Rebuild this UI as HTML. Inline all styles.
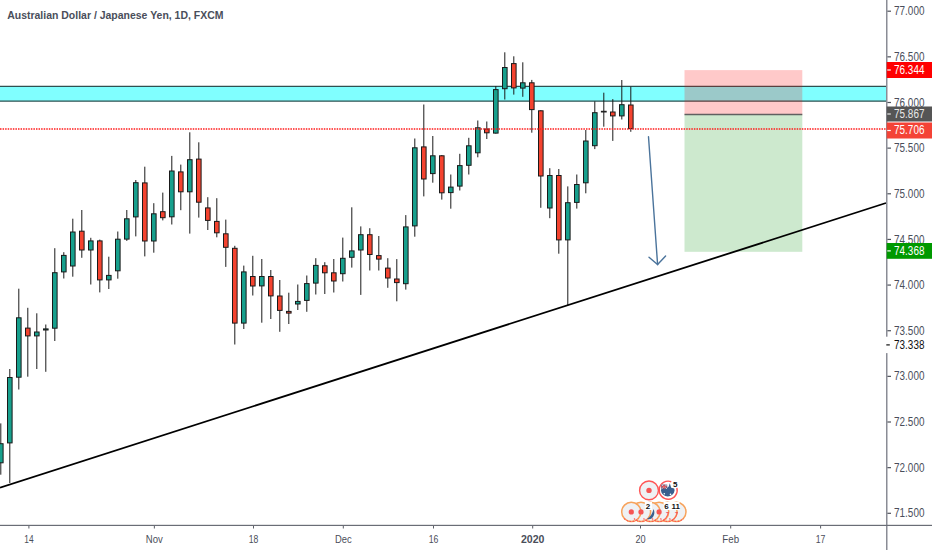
<!DOCTYPE html>
<html><head><meta charset="utf-8"><title>AUDJPY</title>
<style>
html,body{margin:0;padding:0;background:#fff;}
body{width:932px;height:550px;overflow:hidden;}
svg{display:block;}
text{font-family:"Liberation Sans",sans-serif;}
</style></head><body>
<svg width="932" height="550" viewBox="0 0 932 550">
<rect x="0" y="0" width="932" height="550" fill="#ffffff"/>

<rect x="0" y="86.4" width="886" height="14.8" fill="#80ffff"/>
<line x1="0" y1="86.4" x2="886" y2="86.4" stroke="#2f5050" stroke-width="1.2"/>
<line x1="0" y1="101.2" x2="886" y2="101.2" stroke="#2f5050" stroke-width="1.2"/>
<g stroke="#1a1a1a" stroke-width="1">
<line x1="0.8" y1="423.4" x2="0.8" y2="474.7"/>
<line x1="9.8" y1="369" x2="9.8" y2="483"/>
<line x1="18.8" y1="288.7" x2="18.8" y2="389.5"/>
<line x1="27.8" y1="307.8" x2="27.8" y2="376.7"/>
<line x1="36.8" y1="313.3" x2="36.8" y2="369"/>
<line x1="45.8" y1="324.5" x2="45.8" y2="371.8"/>
<line x1="54.8" y1="248.2" x2="54.8" y2="341"/>
<line x1="63.8" y1="252.2" x2="63.8" y2="278.5"/>
<line x1="72.8" y1="218.7" x2="72.8" y2="276.7"/>
<line x1="81.8" y1="210" x2="81.8" y2="257.8"/>
<line x1="90.8" y1="237.8" x2="90.8" y2="284.5"/>
<line x1="99.8" y1="239.6" x2="99.8" y2="292.4"/>
<line x1="108.8" y1="256.7" x2="108.8" y2="289"/>
<line x1="117.8" y1="231.5" x2="117.8" y2="278.7"/>
<line x1="126.8" y1="210" x2="126.8" y2="240.9"/>
<line x1="135.8" y1="180" x2="135.8" y2="236.4"/>
<line x1="144.8" y1="166.7" x2="144.8" y2="256.4"/>
<line x1="153.8" y1="203.2" x2="153.8" y2="252.7"/>
<line x1="162.8" y1="192.6" x2="162.8" y2="220.4"/>
<line x1="171.8" y1="155.9" x2="171.8" y2="224.5"/>
<line x1="180.8" y1="164.6" x2="180.8" y2="210.2"/>
<line x1="189.8" y1="132.3" x2="189.8" y2="233.6"/>
<line x1="198.8" y1="142.3" x2="198.8" y2="217.6"/>
<line x1="207.8" y1="197.2" x2="207.8" y2="230"/>
<line x1="216.8" y1="198.2" x2="216.8" y2="237.3"/>
<line x1="225.8" y1="219.6" x2="225.8" y2="266.9"/>
<line x1="234.8" y1="245.8" x2="234.8" y2="344.5"/>
<line x1="243.8" y1="265.6" x2="243.8" y2="329"/>
<line x1="252.8" y1="255.8" x2="252.8" y2="295.5"/>
<line x1="261.8" y1="259" x2="261.8" y2="322.7"/>
<line x1="270.8" y1="270" x2="270.8" y2="319"/>
<line x1="279.8" y1="280" x2="279.8" y2="331.8"/>
<line x1="288.8" y1="292.7" x2="288.8" y2="324"/>
<line x1="297.8" y1="284.5" x2="297.8" y2="310"/>
<line x1="306.8" y1="275.5" x2="306.8" y2="311.8"/>
<line x1="315.8" y1="258.2" x2="315.8" y2="294.5"/>
<line x1="324.8" y1="262.2" x2="324.8" y2="294"/>
<line x1="333.8" y1="259" x2="333.8" y2="292.5"/>
<line x1="342.8" y1="237.6" x2="342.8" y2="281.5"/>
<line x1="351.8" y1="207.3" x2="351.8" y2="267.6"/>
<line x1="360.8" y1="226.4" x2="360.8" y2="294.9"/>
<line x1="369.8" y1="228.2" x2="369.8" y2="270.5"/>
<line x1="378.8" y1="236" x2="378.8" y2="270.5"/>
<line x1="387.8" y1="258.2" x2="387.8" y2="287.8"/>
<line x1="396.8" y1="259.1" x2="396.8" y2="301.3"/>
<line x1="405.8" y1="215.1" x2="405.8" y2="289.6"/>
<line x1="414.8" y1="138.5" x2="414.8" y2="236.7"/>
<line x1="423.8" y1="104.5" x2="423.8" y2="196.4"/>
<line x1="432.8" y1="136" x2="432.8" y2="182.7"/>
<line x1="441.8" y1="155" x2="441.8" y2="199.6"/>
<line x1="450.8" y1="174.5" x2="450.8" y2="208.7"/>
<line x1="459.8" y1="153.8" x2="459.8" y2="190.5"/>
<line x1="468.8" y1="137.8" x2="468.8" y2="174.5"/>
<line x1="477.8" y1="120.5" x2="477.8" y2="157.3"/>
<line x1="486.8" y1="121.5" x2="486.8" y2="139"/>
<line x1="495.8" y1="86" x2="495.8" y2="133.6"/>
<line x1="504.8" y1="52.3" x2="504.8" y2="99.5"/>
<line x1="513.8" y1="56.3" x2="513.8" y2="94.6"/>
<line x1="522.8" y1="62.3" x2="522.8" y2="96.8"/>
<line x1="531.8" y1="79.9" x2="531.8" y2="132.7"/>
<line x1="540.8" y1="110.2" x2="540.8" y2="207.8"/>
<line x1="549.8" y1="168.2" x2="549.8" y2="218.2"/>
<line x1="558.8" y1="169" x2="558.8" y2="253.7"/>
<line x1="567.8" y1="186.4" x2="567.8" y2="305.5"/>
<line x1="576.8" y1="174.5" x2="576.8" y2="208.6"/>
<line x1="585.8" y1="130" x2="585.8" y2="193.3"/>
<line x1="594.8" y1="101.3" x2="594.8" y2="149.1"/>
<line x1="603.8" y1="92.7" x2="603.8" y2="126.7"/>
<line x1="612.8" y1="99.1" x2="612.8" y2="140.9"/>
<line x1="621.8" y1="80" x2="621.8" y2="119.5"/>
<line x1="630.8" y1="86.7" x2="630.8" y2="131.8"/>
</g>
<g stroke="#1a1a1a" stroke-width="1">
<rect x="-1.5" y="443.7" width="4.6" height="19.1" fill="#17a08d"/>
<rect x="7.5" y="377.5" width="4.6" height="65.4" fill="#17a08d"/>
<rect x="16.5" y="317.8" width="4.6" height="59.4" fill="#17a08d"/>
<rect x="25.5" y="328.1" width="4.6" height="7.8" fill="#f4432f"/>
<rect x="34.5" y="332" width="4.6" height="3.9" fill="#17a08d"/>
<rect x="43.5" y="328.9" width="4.6" height="1.1" fill="#17a08d"/>
<rect x="52.5" y="272.7" width="4.6" height="55.5" fill="#17a08d"/>
<rect x="61.5" y="255.4" width="4.6" height="16.5" fill="#17a08d"/>
<rect x="70.5" y="232" width="4.6" height="34" fill="#17a08d"/>
<rect x="79.5" y="231.2" width="4.6" height="18.8" fill="#f4432f"/>
<rect x="88.5" y="240.9" width="4.6" height="9.1" fill="#17a08d"/>
<rect x="97.5" y="240.9" width="4.6" height="39" fill="#f4432f"/>
<rect x="106.5" y="275.4" width="4.6" height="4.5" fill="#17a08d"/>
<rect x="115.5" y="239.2" width="4.6" height="31.6" fill="#17a08d"/>
<rect x="124.5" y="218.8" width="4.6" height="20.3" fill="#17a08d"/>
<rect x="133.5" y="182.7" width="4.6" height="34.2" fill="#17a08d"/>
<rect x="142.5" y="182.9" width="4.6" height="58.1" fill="#f4432f"/>
<rect x="151.5" y="213.8" width="4.6" height="27.2" fill="#17a08d"/>
<rect x="160.5" y="211.7" width="4.6" height="6" fill="#f4432f"/>
<rect x="169.5" y="171" width="4.6" height="45.8" fill="#17a08d"/>
<rect x="178.5" y="171.9" width="4.6" height="19.9" fill="#f4432f"/>
<rect x="187.5" y="159.7" width="4.6" height="32.1" fill="#17a08d"/>
<rect x="196.5" y="159.1" width="4.6" height="43.1" fill="#f4432f"/>
<rect x="205.5" y="207.9" width="4.6" height="12.5" fill="#f4432f"/>
<rect x="214.5" y="221.4" width="4.6" height="11.4" fill="#f4432f"/>
<rect x="223.5" y="233.8" width="4.6" height="13.5" fill="#f4432f"/>
<rect x="232.5" y="248.3" width="4.6" height="74.8" fill="#f4432f"/>
<rect x="241.5" y="271.9" width="4.6" height="51.2" fill="#17a08d"/>
<rect x="250.5" y="276.5" width="4.6" height="9.5" fill="#f4432f"/>
<rect x="259.5" y="276.5" width="4.6" height="9.4" fill="#17a08d"/>
<rect x="268.5" y="276.5" width="4.6" height="19.4" fill="#f4432f"/>
<rect x="277.5" y="296" width="4.6" height="14.4" fill="#f4432f"/>
<rect x="286.5" y="311.4" width="4.6" height="1.7" fill="#f4432f"/>
<rect x="295.5" y="301.4" width="4.6" height="2.6" fill="#17a08d"/>
<rect x="304.5" y="283.6" width="4.6" height="16.8" fill="#17a08d"/>
<rect x="313.5" y="265.4" width="4.6" height="17.7" fill="#17a08d"/>
<rect x="322.5" y="265.8" width="4.6" height="7" fill="#f4432f"/>
<rect x="331.5" y="272.8" width="4.6" height="8.2" fill="#f4432f"/>
<rect x="340.5" y="258.3" width="4.6" height="15.4" fill="#17a08d"/>
<rect x="349.5" y="250.9" width="4.6" height="6.4" fill="#17a08d"/>
<rect x="358.5" y="234.7" width="4.6" height="15.3" fill="#17a08d"/>
<rect x="367.5" y="234.7" width="4.6" height="19.8" fill="#f4432f"/>
<rect x="376.5" y="255.6" width="4.6" height="3.5" fill="#f4432f"/>
<rect x="385.5" y="268.1" width="4.6" height="9.9" fill="#f4432f"/>
<rect x="394.5" y="279" width="4.6" height="3.6" fill="#f4432f"/>
<rect x="403.5" y="226.9" width="4.6" height="56.8" fill="#17a08d"/>
<rect x="412.5" y="147.8" width="4.6" height="78.1" fill="#17a08d"/>
<rect x="421.5" y="146.9" width="4.6" height="32.1" fill="#f4432f"/>
<rect x="430.5" y="155.8" width="4.6" height="17.8" fill="#17a08d"/>
<rect x="439.5" y="155.8" width="4.6" height="37" fill="#f4432f"/>
<rect x="448.5" y="187.1" width="4.6" height="5.5" fill="#17a08d"/>
<rect x="457.5" y="165.6" width="4.6" height="20.5" fill="#17a08d"/>
<rect x="466.5" y="145.8" width="4.6" height="19.5" fill="#17a08d"/>
<rect x="475.5" y="127.8" width="4.6" height="25" fill="#17a08d"/>
<rect x="484.5" y="129" width="4.6" height="3.8" fill="#f4432f"/>
<rect x="493.5" y="89.6" width="4.6" height="43.5" fill="#17a08d"/>
<rect x="502.5" y="67.5" width="4.6" height="21.2" fill="#17a08d"/>
<rect x="511.5" y="63.6" width="4.6" height="24.3" fill="#f4432f"/>
<rect x="520.5" y="82.8" width="4.6" height="5.3" fill="#17a08d"/>
<rect x="529.5" y="82.8" width="4.6" height="26.8" fill="#f4432f"/>
<rect x="538.5" y="110.8" width="4.6" height="65.2" fill="#f4432f"/>
<rect x="547.5" y="175.5" width="4.6" height="32.5" fill="#17a08d"/>
<rect x="556.5" y="175.5" width="4.6" height="64.4" fill="#f4432f"/>
<rect x="565.5" y="202.7" width="4.6" height="37.2" fill="#17a08d"/>
<rect x="574.5" y="184.5" width="4.6" height="17.9" fill="#17a08d"/>
<rect x="583.5" y="141" width="4.6" height="41.8" fill="#17a08d"/>
<rect x="592.5" y="112.7" width="4.6" height="33" fill="#17a08d"/>
<rect x="600.9" y="110.8" width="5.8" height="1.7" fill="#222" stroke="none"/>
<rect x="610.5" y="112" width="4.6" height="3.9" fill="#f4432f"/>
<rect x="619.5" y="104.7" width="4.6" height="11.2" fill="#17a08d"/>
<rect x="628.5" y="105" width="4.6" height="23.6" fill="#f4432f"/>
</g>
<rect x="684.5" y="70.1" width="117.8" height="44.4" fill="rgba(255,0,0,0.21)"/>
<rect x="684.5" y="114.5" width="117.8" height="137.3" fill="rgba(76,175,80,0.28)"/>
<line x1="684.5" y1="114.5" x2="802.3" y2="114.5" stroke="#606060" stroke-width="1.4"/>
<line x1="0" y1="129" x2="886" y2="129" stroke="#ff1a1a" stroke-width="1.3" stroke-dasharray="1.5 1.07"/>
<g stroke="#4a739b" stroke-width="1.4" fill="none" stroke-linecap="round"><line x1="648.5" y1="136.8" x2="657.6" y2="264.6"/><polyline points="649,257.2 657.6,264.6 665.6,256.1"/></g>
<line x1="0" y1="487.6" x2="886" y2="203" stroke="#000" stroke-width="1.8"/>
<g>
<g fill="#eff1f4" stroke="#f7a35c" stroke-width="1.5">
<circle cx="676.4" cy="511.9" r="9.6"/>
<circle cx="667.4" cy="511.9" r="9.6"/>
<circle cx="659.1" cy="511.9" r="9.6"/>
<circle cx="650.5" cy="511.9" r="9.6"/>
<circle cx="641" cy="511.9" r="9.6"/>
<circle cx="631.3" cy="511.9" r="9.6"/>
</g>
<g fill="none" stroke="#f55" stroke-width="1.1" stroke-dasharray="1.5 1.5"><path d="M624.3 518.5 A9.6 9.6 0 0 0 638.3 518.5"/><path d="M634.0 518.5 A9.6 9.6 0 0 0 648.0 518.5"/><path d="M643.5 518.5 A9.6 9.6 0 0 0 657.5 518.5"/><path d="M652.1 518.5 A9.6 9.6 0 0 0 666.1 518.5"/><path d="M660.4 518.5 A9.6 9.6 0 0 0 674.4 518.5"/><path d="M669.4 518.5 A9.6 9.6 0 0 0 683.4 518.5"/></g>
<g fill="#f65454">
<circle cx="631.3" cy="511.9" r="2.6"/>
<circle cx="641" cy="511.9" r="2.6"/>
<circle cx="659.1" cy="511.9" r="2.6"/>
<path d="M665.5 512.5 l3.6 -0.8 l-0.6 2.4 z"/>
<path d="M674.5 512.5 l3.6 -0.8 l-0.6 2.4 z"/>
</g>
<g fill="none" stroke="#f55" stroke-width="1"><path d="M668 514 q-1 4 -5 6.5"/><path d="M677 514 q-1 4 -5 6.5"/></g>
<path d="M647 519 q5 -3 6.5 -10 q2 4 -0.5 8 q-2 3 -6 2 z" fill="#3b5f8e"/>
<circle cx="649" cy="490.4" r="9.4" fill="#eff1f4" stroke="#f55" stroke-width="1.4"/>
<circle cx="649" cy="490.4" r="2.7" fill="#f65454"/>
<circle cx="668.2" cy="490.2" r="9" fill="#fff"/><path d="M676.89 487.87 A9 9 0 1 1 671.28 481.74" fill="none" stroke="#f55" stroke-width="1.4"/>
<path d="M660.9 490.5 A6.9 6.9 0 0 0 674.6 490.5 L674.2 488.6 L671.2 487.8 L669.8 483.2 L668.6 486.8 L666.5 488.2 L661.3 488.6 Z" fill="#3b5f8e"/>
<path d="M661.2 484.6 h6 v4.4 h-6 z" fill="#3b5f8e"/>
<path d="M661.5 484.8 l5.5 4 M667 484.8 l-5.5 4" stroke="#f3c0c0" stroke-width="1"/>
<path d="M664.2 484.5 v4.6 M661.2 486.8 h6" stroke="#f05050" stroke-width="1"/>
<circle cx="664.3" cy="493.7" r="0.8" fill="#fff"/><circle cx="670.5" cy="494.4" r="0.8" fill="#fff"/>
<rect x="644.8" y="502" width="7.2" height="8" fill="#fff"/>
<rect x="663.5" y="502" width="16" height="8" fill="#fff"/>
</g>
<g font-size="8" fill="#111" font-weight="bold"><text x="672.9" y="486.7">5</text><text x="645.8" y="508.6">2</text><text x="664.2" y="508.6">6</text><text x="671.6" y="508.6">11</text></g>
<rect x="886" y="0" width="1.5" height="550" fill="#8a8c95"/>
<rect x="0" y="524.8" width="932" height="1.2" fill="#6a6d76"/>
<g font-size="12" fill="#4a4e5a"><rect x="887.4" y="10.6" width="3.6" height="1.2" fill="#50535c"/>
<text x="894.1" y="15.3" textLength="30.3" lengthAdjust="spacingAndGlyphs">77.000</text>
<rect x="887.4" y="56.24" width="3.6" height="1.2" fill="#50535c"/>
<text x="894.1" y="60.95" textLength="30.3" lengthAdjust="spacingAndGlyphs">76.500</text>
<rect x="887.4" y="101.89" width="3.6" height="1.2" fill="#50535c"/>
<text x="894.1" y="106.59" textLength="30.3" lengthAdjust="spacingAndGlyphs">76.000</text>
<rect x="887.4" y="147.53" width="3.6" height="1.2" fill="#50535c"/>
<text x="894.1" y="152.23" textLength="30.3" lengthAdjust="spacingAndGlyphs">75.500</text>
<rect x="887.4" y="193.18" width="3.6" height="1.2" fill="#50535c"/>
<text x="894.1" y="197.88" textLength="30.3" lengthAdjust="spacingAndGlyphs">75.000</text>
<rect x="887.4" y="238.83" width="3.6" height="1.2" fill="#50535c"/>
<text x="894.1" y="243.53" textLength="30.3" lengthAdjust="spacingAndGlyphs">74.500</text>
<rect x="887.4" y="284.47" width="3.6" height="1.2" fill="#50535c"/>
<text x="894.1" y="289.17" textLength="30.3" lengthAdjust="spacingAndGlyphs">74.000</text>
<rect x="887.4" y="330.12" width="3.6" height="1.2" fill="#50535c"/>
<text x="894.1" y="334.82" textLength="30.3" lengthAdjust="spacingAndGlyphs">73.500</text>
<rect x="887.4" y="375.76" width="3.6" height="1.2" fill="#50535c"/>
<text x="894.1" y="380.46" textLength="30.3" lengthAdjust="spacingAndGlyphs">73.000</text>
<rect x="887.4" y="421.4" width="3.6" height="1.2" fill="#50535c"/>
<text x="894.1" y="426.11" textLength="30.3" lengthAdjust="spacingAndGlyphs">72.500</text>
<rect x="887.4" y="467.05" width="3.6" height="1.2" fill="#50535c"/>
<text x="894.1" y="471.75" textLength="30.3" lengthAdjust="spacingAndGlyphs">72.000</text>
<rect x="887.4" y="512.7" width="3.6" height="1.2" fill="#50535c"/>
<text x="894.1" y="517.4" textLength="30.3" lengthAdjust="spacingAndGlyphs">71.500</text></g>
<rect x="886.7" y="62" width="45.3" height="16" fill="#ff0000"/><rect x="887.3" y="69.4" width="3.5" height="1.2" fill="#ffffff"/><text x="894.1" y="73.9" font-size="12" fill="#ffffff" textLength="30.3" lengthAdjust="spacingAndGlyphs">76.344</text>
<rect x="886.7" y="106.5" width="45.3" height="15" fill="#555555"/><rect x="887.3" y="113.4" width="3.5" height="1.2" fill="#e8e8e8"/><text x="894.1" y="117.9" font-size="12" fill="#e8e8e8" textLength="30.3" lengthAdjust="spacingAndGlyphs">75.867</text>
<rect x="886.7" y="122.5" width="45.3" height="16" fill="#f44336"/><rect x="887.3" y="129.9" width="3.5" height="1.2" fill="#ffffff"/><text x="894.1" y="134.4" font-size="12" fill="#ffffff" textLength="30.3" lengthAdjust="spacingAndGlyphs">75.706</text>
<rect x="886.7" y="243" width="45.3" height="15.8" fill="#009900"/><rect x="887.3" y="250.3" width="3.5" height="1.2" fill="#ffffff"/><text x="894.1" y="254.8" font-size="12" fill="#ffffff" textLength="30.3" lengthAdjust="spacingAndGlyphs">74.368</text>
<rect x="885.7" y="336.7" width="46.3" height="16.4" fill="#ffffff"/><rect x="886.3" y="344.3" width="3.5" height="1.2" fill="#111111"/><text x="894.1" y="348.8" font-size="12" fill="#111111" textLength="30.3" lengthAdjust="spacingAndGlyphs">73.338</text>
<g font-size="11.6" fill="#4a4e5a"><rect x="28.4" y="526" width="1" height="2.5" fill="#5a5d66"/>
<text x="24.25" y="543" textLength="9.3" lengthAdjust="spacingAndGlyphs">14</text>
<rect x="153.85" y="526" width="1" height="2.5" fill="#5a5d66"/>
<text x="145.85" y="543" textLength="17" lengthAdjust="spacingAndGlyphs">Nov</text>
<rect x="253" y="526" width="1" height="2.5" fill="#5a5d66"/>
<text x="248.7" y="543" textLength="9.6" lengthAdjust="spacingAndGlyphs">18</text>
<rect x="342.8" y="526" width="1" height="2.5" fill="#5a5d66"/>
<text x="334.95" y="543" textLength="16.7" lengthAdjust="spacingAndGlyphs">Dec</text>
<rect x="433" y="526" width="1" height="2.5" fill="#5a5d66"/>
<text x="428.65" y="543" textLength="9.7" lengthAdjust="spacingAndGlyphs">16</text>
<rect x="532.2" y="526" width="1" height="2.5" fill="#5a5d66"/>
<text x="520.95" y="543" textLength="23.5" lengthAdjust="spacingAndGlyphs" font-weight="bold">2020</text>
<rect x="640" y="526" width="1" height="2.5" fill="#5a5d66"/>
<text x="635.4" y="543" textLength="10.2" lengthAdjust="spacingAndGlyphs">20</text>
<rect x="730.2" y="526" width="1" height="2.5" fill="#5a5d66"/>
<text x="722.35" y="543" textLength="16.7" lengthAdjust="spacingAndGlyphs">Feb</text>
<rect x="820.1" y="526" width="1" height="2.5" fill="#5a5d66"/>
<text x="815.75" y="543" textLength="9.7" lengthAdjust="spacingAndGlyphs">17</text></g>
<text x="7.2" y="18.7" font-size="11" fill="#4a4e5a" font-weight="bold" textLength="216.3" lengthAdjust="spacingAndGlyphs">Australian Dollar / Japanese Yen, 1D, FXCM</text>
</svg>
</body></html>
